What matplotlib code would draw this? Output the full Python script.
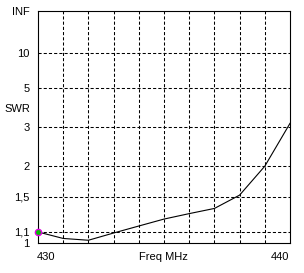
import numpy as np
import matplotlib
matplotlib.use("Agg")
import matplotlib.pyplot as plt

freq = [430, 431, 432, 433, 434, 435, 436, 437, 438, 439, 440]
swr = [1.10, 1.04, 1.024, 1.09, 1.158, 1.23, 1.29, 1.35, 1.52, 1.99, 3.13]

swr_ticks = [1, 1.1, 1.5, 2, 3, 5, 10, 1e12]
swr_labels = ["1", "1,1", "1,5", "2", "3", "5", "10", "INF"]
grid_swr = [1.1, 1.5, 2, 3, 5, 10]


def fwd(s):
    s = np.asarray(s, dtype=float)
    return (s - 1) / (s + 1)


def inv(g):
    g = np.asarray(g, dtype=float)
    return (1 + g) / np.maximum(1 - g, 1e-12)


plt.rcParams['font.family'] = ['Liberation Sans', 'DejaVu Sans']

fig = plt.figure(figsize=(3.04, 2.73), dpi=100, facecolor="white")
ax = fig.add_axes([38 / 304, 1 - 243 / 273, 252 / 304, 232 / 273])
ax.set_yscale("function", functions=(fwd, inv))
ax.set_xlim(430, 440)
ax.set_ylim(1, 1e12)

for f in range(431, 440):
    ax.axvline(f, color="black", lw=0.75, ls=(0, (3, 2)), zorder=1)
for s in grid_swr:
    ax.axhline(s, color="black", lw=0.75, ls=(0, (3, 2)), zorder=1)

ax.plot(freq, swr, color="black", lw=0.8, zorder=3)
ax.plot(freq[0], swr[0], marker="o", ms=4.5, mfc="#00c000", mec="#e000e0",
        mew=1, zorder=4, clip_on=False)

ax.set_yticks(swr_ticks)
ax.set_yticklabels(swr_labels)
ax.yaxis.set_minor_locator(matplotlib.ticker.NullLocator())
ax.tick_params(axis="y", length=0, pad=6, labelsize=8)
ax.set_xticks([])
for sp in ax.spines.values():
    sp.set_linewidth(0.8)
    sp.set_color("black")

fig.text(4 / 304, 1 - 109 / 273, "SWR", fontsize=8, ha="left", va="center")
fig.text(37 / 304, 1 - 257 / 273, "430", fontsize=8, ha="left", va="center")
fig.text(163 / 304, 1 - 257 / 273, "Freq MHz", fontsize=8, ha="center", va="center")
fig.text(289 / 304, 1 - 257 / 273, "440", fontsize=8, ha="right", va="center")

fig.savefig("out.png", dpi=100, facecolor="white")
